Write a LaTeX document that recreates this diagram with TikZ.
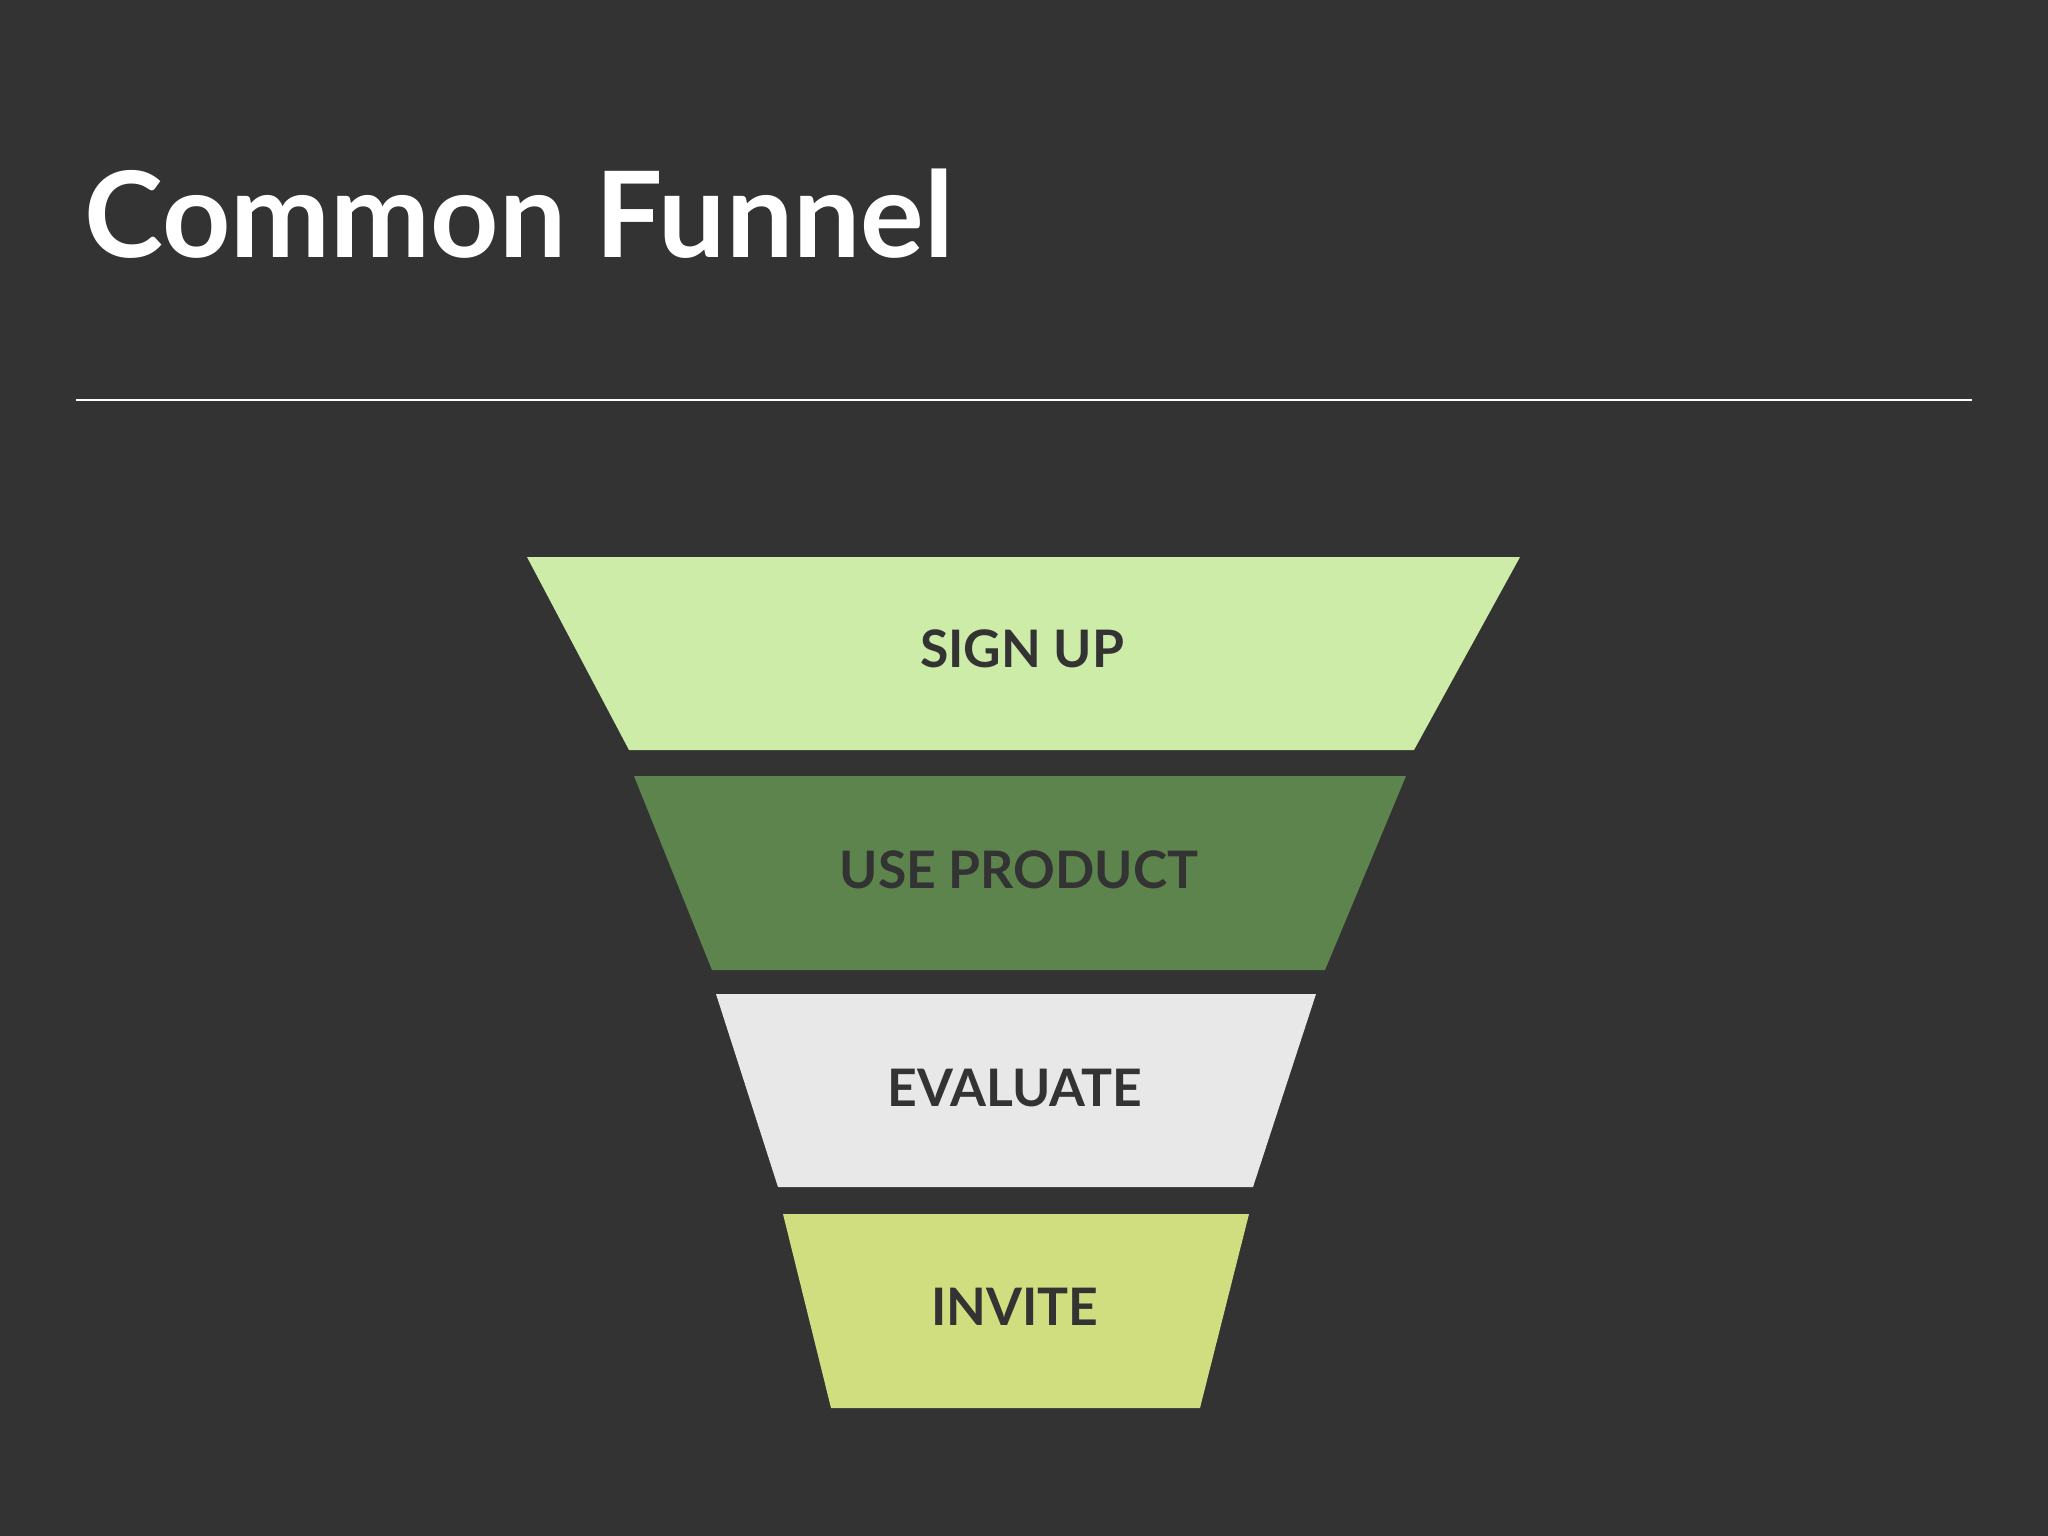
\documentclass[tikz,border=0pt]{standalone}
\usepackage{fontspec}
\setmainfont{Lato}
\begin{document}
\begin{tikzpicture}[x=0.01cm,y=-0.01cm]
    % Define colors
    \definecolor{slideColor}{RGB}{51,51,51}
    \definecolor{signupColor}{RGB}{204,236,168}
    \definecolor{useColor}{RGB}{94,132,77}
    \definecolor{evaluateColor}{RGB}{232,232,232}
    \definecolor{inviteColor}{RGB}{208,222,128}
    \tikzset{stage/.style={font=\fontsize{14.7}{16}\selectfont\bfseries, text=slideColor, inner sep=0pt}}
    % Background
    \fill[slideColor] (0,0) rectangle (2048,1536);
    \useasboundingbox (0,0) rectangle (2048,1536);
    % Title and rule
    \node[anchor=base west, text=white, font=\fontsize{33.9}{40}\selectfont\bfseries, inner sep=0pt] (title) at (84,257) {Common Funnel};
    \draw[white, line width=0.6pt] (76,400) -- (1972,400);
    % Funnel stages (top to bottom)
    \fill[signupColor] (527,557) -- (1520,557) -- (1414,750) -- (629,750) -- cycle;
    \fill[useColor] (634,776) -- (1406,776) -- (1325,970) -- (712,970) -- cycle;
    \fill[evaluateColor] (716,994) -- (1316,994) -- (1253,1187) -- (778,1187) -- cycle;
    \fill[inviteColor] (783,1214) -- (1249,1214) -- (1200,1408) -- (831,1408) -- cycle;
    % Labels for stages
    \node[stage] (signup) at (1022,649) {SIGN UP};
    \node[stage] (useproduct) at (1019,870) {USE PRODUCT};
    \node[stage] (evaluate) at (1015,1088) {EVALUATE};
    \node[stage] (invite) at (1015,1307) {INVITE};
\end{tikzpicture}
\end{document}
